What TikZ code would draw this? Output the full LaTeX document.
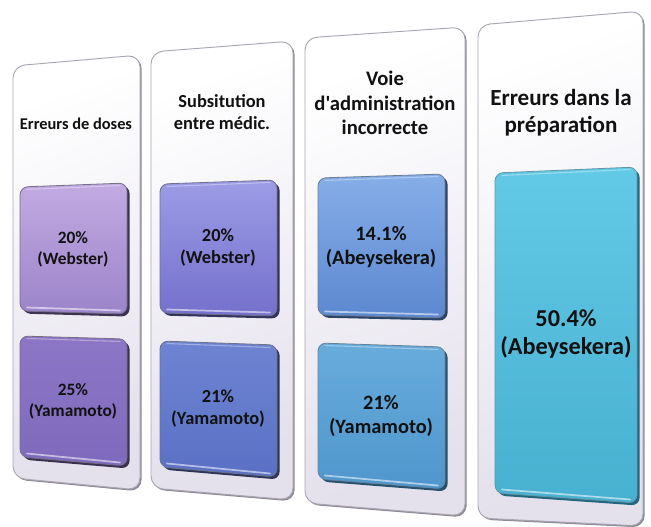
\documentclass[tikz,border=0pt]{standalone}
\usepackage{fontspec}
\setmainfont{Carlito}
\newfontfamily\carlplain{Carlito}[Ligatures=ResetAll]
\usetikzlibrary{calc}
\definecolor{panelbot}{HTML}{E4E0EC}
\definecolor{paneledge}{HTML}{A9A5B2}
\definecolor{panelshadow}{HTML}{8E8A96}
\definecolor{txt}{HTML}{111111}
\definecolor{aT}{HTML}{C2AAE2}\definecolor{aB}{HTML}{9C84CA}\definecolor{aD}{HTML}{3C3252}
\definecolor{bT}{HTML}{8C76C6}\definecolor{bB}{HTML}{7E6ABC}\definecolor{bD}{HTML}{3A3050}
\definecolor{cT}{HTML}{9C9CE6}\definecolor{cB}{HTML}{7470CC}\definecolor{cD}{HTML}{32335A}
\definecolor{dT}{HTML}{6E84D2}\definecolor{dB}{HTML}{5A70C4}\definecolor{dD}{HTML}{2E3658}
\definecolor{eT}{HTML}{86AEE8}\definecolor{eB}{HTML}{5C88D0}\definecolor{eD}{HTML}{2C4468}
\definecolor{fT}{HTML}{68ACDC}\definecolor{fB}{HTML}{4E96CC}\definecolor{fD}{HTML}{25506E}
\definecolor{gT}{HTML}{62CAE6}\definecolor{gB}{HTML}{48B0D0}\definecolor{gD}{HTML}{22677E}
\newcommand{\panelshape}[4]{%
  \fill[panelshadow, rounded corners=9pt, shift={(1.6,1.6)}] #1 -- #2 -- #3 -- #4 -- cycle;
  \path[panel] #1 -- #2 -- #3 -- #4 -- cycle;}
\newcommand{\boxshape}[7]{%
  \fill[#7, rounded corners=6pt, shift={(2.6,2.6)}] #1 -- #2 -- #3 -- #4 -- cycle;
  \path[rounded corners=6pt, top color=#5, bottom color=#6, draw=#7!70, line width=0.6pt] #1 -- #2 -- #3 -- #4 -- cycle;
  \draw[white, opacity=0.55, line width=1.3pt, line cap=round] ($#4+(7,-3.5)$) -- ($#3+(-7,-3.5)$);
  \draw[white, opacity=0.35, line width=0.8pt, line cap=round] ($#1+(7,2.5)$) -- ($#2+(-7,2.5)$);}
\begin{document}
\begin{tikzpicture}[x=0.75pt,y=-0.75pt,
  panel/.style={draw=paneledge, line width=0.7pt, rounded corners=9pt, top color=white, bottom color=panelbot, shading angle=20},
  lbl/.style={align=center, text=txt, font=\bfseries, inner sep=0pt},
  f1/.style={font=\bfseries\fontsize{12.3}{14}\selectfont},
  f2/.style={font=\bfseries\fontsize{13.8}{16.5}\selectfont},
  f3/.style={font=\carlplain\bfseries\fontsize{15.5}{18.5}\selectfont},
  f4/.style={font=\bfseries\fontsize{17.3}{20}\selectfont},
  b1/.style={font=\bfseries\fontsize{13}{15.5}\selectfont},
  b2/.style={font=\bfseries\fontsize{13.8}{16.5}\selectfont},
  b3/.style={font=\bfseries\fontsize{15.3}{18.5}\selectfont},
  b4/.style={font=\bfseries\fontsize{18.2}{21.5}\selectfont}]
\useasboundingbox (0,0) rectangle (651,526);
\fill[white] (0,0) rectangle (651,526);
% panels
\panelshape{(13,66)}{(140,55)}{(140,490)}{(13,478)}
\panelshape{(151,52)}{(293,41)}{(293,500)}{(151,488)}
\panelshape{(305,38)}{(465,27)}{(465,516)}{(305,503)}
\panelshape{(478,25)}{(643,11)}{(643,526)}{(478,518)}
% boxes
\boxshape{(20,187)}{(127,183)}{(127,314)}{(20,311)}{aT}{aB}{aD}
\boxshape{(20,336)}{(127,339)}{(127,466)}{(20,457)}{bT}{bB}{bD}
\boxshape{(160,184)}{(277,180)}{(277,316)}{(160,313)}{cT}{cB}{cD}
\boxshape{(160,341)}{(277,345)}{(277,477)}{(160,467)}{dT}{dB}{dD}
\boxshape{(318,178)}{(445,174)}{(445,318)}{(318,315)}{eT}{eB}{eD}
\boxshape{(318,343)}{(445,347)}{(445,489)}{(318,479)}{fT}{fB}{fD}
\boxshape{(495,173)}{(637,167)}{(637,503)}{(495,493)}{gT}{gB}{gD}
% panel labels
\node[lbl,f1] (t1) at (76,124) {Erreurs de doses};
\node[lbl,f2] (t2) at (222,112) {Subsitution\\entre médic.};
\node[lbl,f3] (t3) at (385,103) {Voie\\d'administration\\incorrecte};
\node[lbl,f4] (t4) at (561,113) {Erreurs dans la\\préparation};
% box labels
\node[lbl,b1] (v11) at (73,249) {20\%\\(Webster)};
\node[lbl,b1] (v12) at (73,401) {25\%\\(Yamamoto)};
\node[lbl,b2] (v21) at (218,248) {20\%\\(Webster)};
\node[lbl,b2] (v22) at (218,409) {21\%\\(Yamamoto)};
\node[lbl,b3] (v31) at (381,247) {14.1\%\\(Abeysekera)};
\node[lbl,b3] (v32) at (381,416) {21\%\\(Yamamoto)};
\node[lbl,b4] (v41) at (566,334) {50.4\%\\(Abeysekera)};
\end{tikzpicture}
\end{document}
